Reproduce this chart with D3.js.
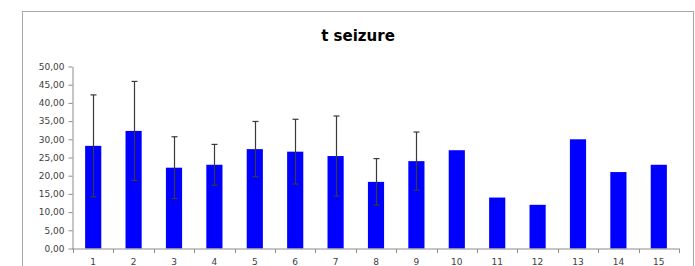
<!DOCTYPE html>
<html>
<head>
<meta charset="utf-8">
<script src="https://cdn.jsdelivr.net/npm/d3@7"></script>
<style>
  body { margin: 0; background: #fff; }
  svg { display: block; }
</style>
</head>
<body>
<svg width="695" height="266"></svg>
<script>
// data
var categories = ["1","2","3","4","5","6","7","8","9","10","11","12","13","14","15"];
var means = [28.2, 32.3, 22.2, 23.0, 27.3, 26.6, 25.4, 18.3, 24.0, 27.0, 14.0, 12.0, 30.0, 21.0, 23.0];
var sds = [14.0, 13.6, 8.5, 5.6, 7.6, 8.9, 11.0, 6.4, 8.0, null, null, null, null, null, null];
var yTicks = [0, 5, 10, 15, 20, 25, 30, 35, 40, 45, 50];
var title = "t seizure";

var svg = d3.select("svg");

//frame of the chart object
svg.append("rect")
    .attr("x", 22.5).attr("y", 11.5)
    .attr("width", 671).attr("height", 300)
    .attr("fill", "none")
    .attr("stroke", "#a6a6a6");

var x = d3.scaleBand()
    .domain(categories)
    .range([73, 679])
    .paddingInner(0.6)
    .paddingOuter(0.3);

var y = d3.scaleLinear()
    .domain([0, 50])
    .range([248.5, 66.5]);

var fmt = function(d) { return d3.format(".2f")(d).replace(".", ","); };

//y axis
var yAxis = svg.append("g")
    .attr("transform", "translate(72.5,0)")
    .call(d3.axisLeft(y).tickValues(yTicks).tickFormat(fmt).tickSize(4).tickSizeOuter(0));
yAxis.select(".domain").attr("stroke", "#8c8c8c");
yAxis.selectAll(".tick line").attr("stroke", "#8c8c8c");
yAxis.selectAll("text")
    .attr("fill", "#404040")
    .attr("x", -8)
    .style("font-family", "'DejaVu Sans', sans-serif")
    .style("font-size", "9px");

//bars
svg.append("g")
    .selectAll("rect")
    .data(means)
    .enter().append("rect")
    .attr("x", function(d, i) { return x(categories[i]); })
    .attr("y", function(d) { return y(d); })
    .attr("width", x.bandwidth())
    .attr("height", function(d) { return y(0) - y(d); })
    .attr("fill", "#0000ff");

//error bars (only where sd exists)
var eb = svg.append("g")
    .selectAll("g")
    .data(means.map(function(m, i) { return {m: m, sd: sds[i], c: categories[i]}; })
        .filter(function(d) { return d.sd != null; }))
    .enter().append("g")
    .attr("stroke", "#3a3a3a")
    .attr("stroke-width", 1.2);

var cx = function(d) { return Math.round(x(d.c) + x.bandwidth() / 2) + 0.5; };

eb.append("line")
    .attr("x1", cx).attr("x2", cx)
    .attr("y1", function(d) { return y(d.m + d.sd); })
    .attr("y2", function(d) { return y(d.m - d.sd); });
eb.append("line")
    .attr("x1", function(d) { return cx(d) - 3; })
    .attr("x2", function(d) { return cx(d) + 3; })
    .attr("y1", function(d) { return y(d.m + d.sd); })
    .attr("y2", function(d) { return y(d.m + d.sd); });
eb.append("line")
    .attr("x1", function(d) { return cx(d) - 3; })
    .attr("x2", function(d) { return cx(d) + 3; })
    .attr("y1", function(d) { return y(d.m - d.sd); })
    .attr("y2", function(d) { return y(d.m - d.sd); });

//x axis, ticks between categories
var xg = svg.append("g").attr("transform", "translate(0," + (y(0) + 0.5) + ")");
xg.append("line")
    .attr("x1", 72).attr("x2", 680)
    .attr("stroke", "#8c8c8c");
var step = x.step();
var edges = d3.range(categories.length + 1).map(function(i) {
    return x(categories[0]) - (step - x.bandwidth()) / 2 + i * step;
});
xg.selectAll(".tk")
    .data(edges)
    .enter().append("line")
    .attr("x1", function(d) { return Math.round(d) + 0.5; })
    .attr("x2", function(d) { return Math.round(d) + 0.5; })
    .attr("y1", 0).attr("y2", 4)
    .attr("stroke", "#8c8c8c");
xg.selectAll("text")
    .data(categories)
    .enter().append("text")
    .attr("x", function(d) { return x(d) + x.bandwidth() / 2; })
    .attr("y", 15.5)
    .attr("text-anchor", "middle")
    .attr("fill", "#404040")
    .style("font-family", "'DejaVu Sans', sans-serif")
    .style("font-size", "9px")
    .text(function(d) { return d; });

//title
svg.append("text")
    .attr("x", 358)
    .attr("y", 41)
    .attr("text-anchor", "middle")
    .attr("fill", "#000")
    .style("font-family", "'DejaVu Sans', sans-serif")
    .style("font-weight", "bold")
    .style("font-size", "15px")
    .text(title);
</script>
</body>
</html>
